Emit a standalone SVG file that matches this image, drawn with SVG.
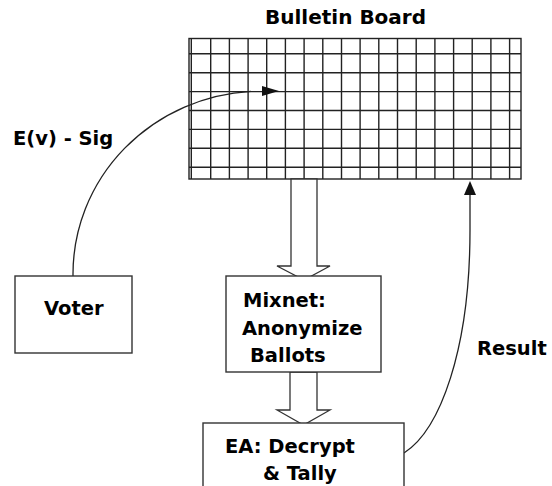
<svg xmlns="http://www.w3.org/2000/svg" width="552" height="486" viewBox="0 0 552 486">
<style>
text{font-family:"DejaVu Sans","Liberation Sans",sans-serif;font-weight:bold;font-size:19.5px;fill:#000}
.box{fill:#fff;stroke:#333;stroke-width:1.4}
.grid{fill:none;stroke:#222;stroke-width:1.4}
.line{fill:none;stroke:#222;stroke-width:1.3}
.hollow{fill:#fff;stroke:#333;stroke-width:1.3;stroke-linejoin:miter}
.head{fill:#111;stroke:none}
</style>
<rect width="552" height="486" fill="#fff"/>
<g id="bulletin-board">
<text x="265" y="24" style="font-size:20px">Bulletin Board</text>
<rect class="grid" x="189" y="38.5" width="332" height="140.5"/>
<path class="grid" d="M191.3,38.5V179 M210.7,38.5V179 M229.4,38.5V179 M248.1,38.5V179 M266.7,38.5V179 M285.4,38.5V179 M304.1,38.5V179 M322.8,38.5V179 M341.5,38.5V179 M360.1,38.5V179 M378.8,38.5V179 M397.5,38.5V179 M416.2,38.5V179 M434.9,38.5V179 M453.6,38.5V179 M472.2,38.5V179 M490.9,38.5V179 M509.6,38.5V179 M189,53.8H521 M189,72.7H521 M189,91.6H521 M189,110.5H521 M189,129.4H521 M189,148.3H521 M189,167.2H521"/>
</g>
<g id="connectors">
<path class="line" d="M73,276 L73,274 A189,183 0 0 1 251,91.3"/>
<polygon class="head" points="262,86 279,91 262,96"/>
<text x="13" y="145">E(v) - Sig</text>
<polygon class="hollow" points="291,179 291,266 277,266 304,280 330,266 317,266 317,179"/>
<polygon class="hollow" points="290,372 290,410 277,410 303.5,425 330,410 317,410 317,372"/>
<path class="line" d="M404,453 C440,430 470,350 470,230 L470,195"/>
<polygon class="head" points="464,195 470,181 476,195"/>
<text x="477" y="355">Result</text>
</g>
<g id="voter">
<rect class="box" x="15" y="276" width="117" height="77"/>
<text x="44" y="315">Voter</text>
</g>
<g id="mixnet">
<rect class="box" x="226" y="276" width="155" height="96"/>
<text x="243" y="307">Mixnet:</text>
<text x="242" y="335">Anonymize</text>
<text x="250" y="362">Ballots</text>
</g>
<g id="ea">
<rect class="box" x="203" y="423" width="201" height="80"/>
<text x="225" y="453">EA: Decrypt</text>
<text x="263" y="480">&amp; Tally</text>
</g>
</svg>
